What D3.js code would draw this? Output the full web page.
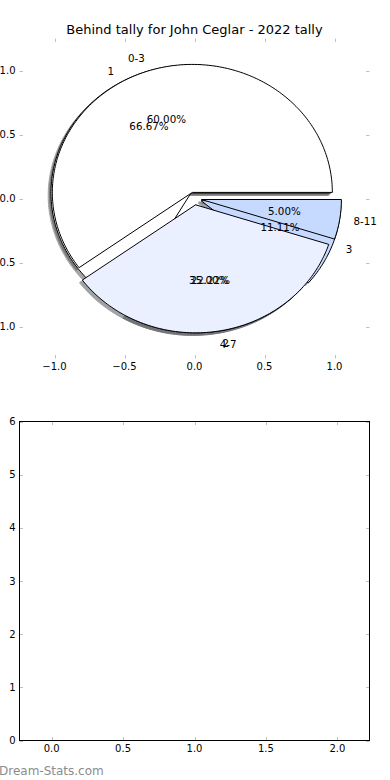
<!DOCTYPE html>
<html>
<head>
<meta charset="UTF-8">
<title>Behind tally</title>
<script src="https://d3js.org/d3.v7.min.js"></script>
<style>
  body { margin: 0; background: white; }
  text { font-family: "DejaVu Sans", sans-serif; fill: #000; }
  .tick-mark { stroke: #c0c0c0; stroke-width: 1; }
  .spine { fill: none; stroke: #000; stroke-width: 1; }
  .wedge { stroke: #000; stroke-width: 1; }
</style>
</head>
<body>
<script>
var chartTitle = "Behind tally for John Ceglar - 2022 tally";

// inner pie (drawn first, underneath)
var countLabels = ["1", "2", "3"];
var countValues = [6, 2, 1];

// outer pie (drawn on top)
var rangeLabels = ["0-3", "4-7", "8-11"];
var rangeValues = [12, 7, 1];

var sliceColors = ["#ffffff", "#eaf0ff", "#c6d9ff"];
var explode = 0.05;

var pieTicks = [-1.0, -0.5, 0.0, 0.5, 1.0];
var barXTicks = [0.0, 0.5, 1.0, 1.5, 2.0];
var barYTicks = [0, 1, 2, 3, 4, 5, 6];

var W = 390, H = 780;
var left = 19.5, right = 369.5;

var svg = d3.select("body").append("svg")
    .attr("width", W).attr("height", H);

svg.append("text")
    .attr("x", 194.5).attr("y", 34)
    .attr("text-anchor", "middle")
    .style("font-size", "13px")
    .text(chartTitle);

// ---------- pie axes ----------
var px = d3.scaleLinear().domain([-1.25, 1.25]).range([left, right]);
var py = d3.scaleLinear().domain([-1.25, 1.25]).range([358.5, 38.5]);

var pie = d3.pie().sort(null).value(function (d) { return d; });

function wedgePath(cx, cy, r, t1, t2) {
    var n = Math.max(8, Math.ceil((t2 - t1) / 0.02));
    var pts = [[cx, cy]];
    d3.range(n + 1).forEach(function (i) {
        var t = t1 + (t2 - t1) * i / n;
        pts.push([cx + r * Math.cos(t), cy + r * Math.sin(t)]);
    });
    return d3.line().x(function (p) { return px(p[0]); })
        .y(function (p) { return py(p[1]); })(pts) + "Z";
}

function layoutPie(values, labels) {
    return pie(values).map(function (a, i) {
        var mid = (a.startAngle + a.endAngle) / 2;
        return {
            label: labels[i],
            color: sliceColors[i],
            t1: a.startAngle, t2: a.endAngle, mid: mid,
            cx: explode * Math.cos(mid), cy: explode * Math.sin(mid),
            pct: (100 * a.value / d3.sum(values)).toFixed(2) + "%"
        };
    });
}

var inner = layoutPie(countValues, countLabels);
var outer = layoutPie(rangeValues, rangeLabels);
var allSlices = inner.concat(outer);

function shade(c) {
    var k = d3.rgb(c);
    return d3.rgb(k.r * 0.3, k.g * 0.3, k.b * 0.3).toString();
}

// shadows under every wedge
var shadows = svg.append("g");
shadows.selectAll("path").data(allSlices).enter().append("path")
    .attr("d", function (d) { return wedgePath(d.cx - 0.02, d.cy - 0.02, 1, d.t1, d.t2); })
    .attr("fill", function (d) { return shade(d.color); })
    .attr("stroke", function (d) { return shade(d.color); })
    .attr("opacity", 0.5);

var wedges = svg.append("g");
wedges.selectAll("path").data(allSlices).enter().append("path")
    .attr("class", "wedge")
    .attr("d", function (d) { return wedgePath(d.cx, d.cy, 1, d.t1, d.t2); })
    .attr("fill", function (d) { return d.color; });

var pieText = svg.append("g").style("font-size", "10.3px");
pieText.selectAll("text.lab").data(allSlices).enter().append("text")
    .attr("class", "lab")
    .attr("x", function (d) { return px(d.cx + 1.1 * Math.cos(d.mid)); })
    .attr("y", function (d) { return py(d.cy + 1.1 * Math.sin(d.mid)); })
    .attr("dy", "0.36em")
    .attr("text-anchor", function (d) { return d.cx + 1.1 * Math.cos(d.mid) > 0 ? "start" : "end"; })
    .text(function (d) { return d.label; });
pieText.selectAll("text.pct").data(allSlices).enter().append("text")
    .attr("class", "pct")
    .attr("x", function (d) { return px(d.cx + 0.6 * Math.cos(d.mid)); })
    .attr("y", function (d) { return py(d.cy + 0.6 * Math.sin(d.mid)); })
    .attr("dy", "0.36em")
    .attr("text-anchor", "middle")
    .text(function (d) { return d.pct; });

// ticks, drawn inward on all four sides
function drawTicks(g, xs, ys, xT, yT, xFmt, yFmt) {
    var x0 = xs.range()[0], x1 = xs.range()[1];
    var yb = ys.range()[0], yt = ys.range()[1];
    var len = 3.5;
    xT.forEach(function (t) {
        var x = Math.round(xs(t)) + 0.5;
        g.append("line").attr("class", "tick-mark").attr("x1", x).attr("x2", x).attr("y1", yb).attr("y2", yb - len);
        g.append("line").attr("class", "tick-mark").attr("x1", x).attr("x2", x).attr("y1", yt).attr("y2", yt + len);
        g.append("text").attr("x", xs(t)).attr("y", yb + 8).attr("dy", "0.36em")
            .attr("text-anchor", "middle").style("font-size", "10px")
            .text(xFmt(t));
    });
    yT.forEach(function (t) {
        var y = Math.round(ys(t)) + 0.5;
        g.append("line").attr("class", "tick-mark").attr("x1", x0).attr("x2", x0 + len).attr("y1", y).attr("y2", y);
        g.append("line").attr("class", "tick-mark").attr("x1", x1).attr("x2", x1 - len).attr("y1", y).attr("y2", y);
        g.append("text").attr("x", x0 - 4).attr("y", ys(t)).attr("dy", "0.36em")
            .attr("text-anchor", "end").style("font-size", "10px")
            .text(yFmt(t));
    });
}

var fmt1 = function (t) { return d3.format(".1f")(t).replace("-", "\u2212"); };
drawTicks(svg.append("g"), px, py, pieTicks, pieTicks, fmt1, fmt1);

// ---------- lower (empty) axes ----------
var bx = d3.scaleLinear().domain([-0.225, 2.225]).range([left, right]);
var by = d3.scaleLinear().domain([0, 6]).range([740.5, 421.5]);

var barG = svg.append("g");
drawTicks(barG, bx, by, barXTicks, barYTicks, fmt1, d3.format("d"));
barG.append("rect").attr("class", "spine")
    .attr("x", left).attr("y", by(6))
    .attr("width", right - left).attr("height", by(0) - by(6));

svg.append("text")
    .attr("x", -1).attr("y", 775)
    .style("font-size", "12px")
    .style("fill", "#8c8c8c")
    .text("Dream-Stats.com");
</script>
</body>
</html>
